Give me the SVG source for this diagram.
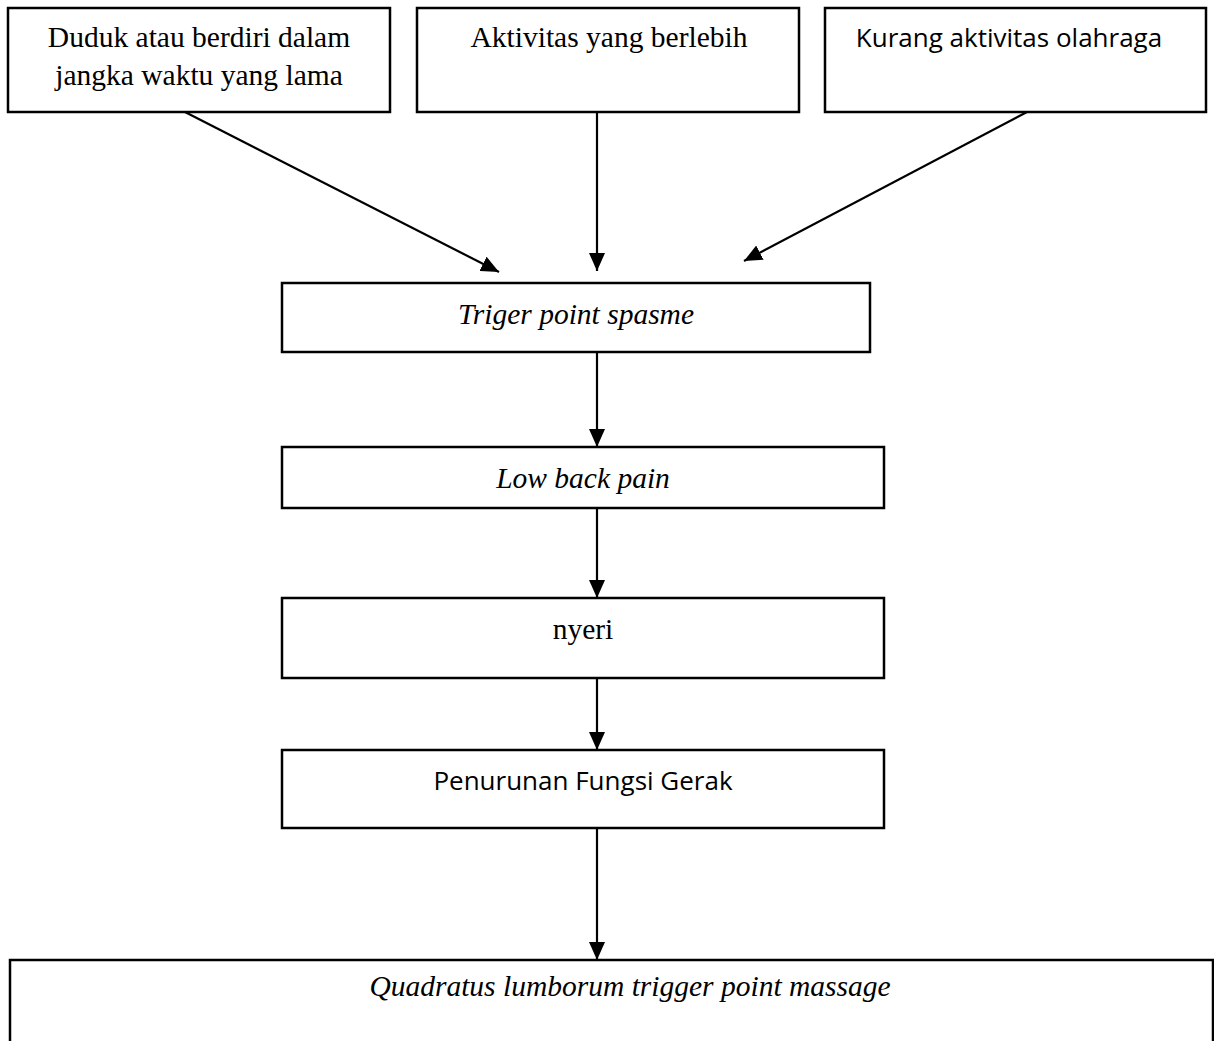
<svg xmlns="http://www.w3.org/2000/svg" width="1214" height="1041" viewBox="0 0 1214 1041">
<style>
.box{fill:#fff;stroke:#000;stroke-width:2.5}
.ser{font-family:"Liberation Serif","Times New Roman",serif;font-size:29.5px;fill:#000;text-anchor:middle}
.it{font-style:italic}
.san{font-family:"Open Sans","Noto Sans",sans-serif;font-size:26px;fill:#000;text-anchor:middle}
.con line{stroke:#000;stroke-width:2.2}
</style>
<defs>
<marker id="ah2" viewBox="0 0 18 16" refX="18" refY="8" markerWidth="18" markerHeight="16" markerUnits="userSpaceOnUse" orient="auto"><path d="M0,0 L18,8 L0,16 z" fill="#000"/></marker>
</defs>
<g id="n1"><rect class="box" x="8" y="8" width="382" height="104"/><text class="ser" x="199" y="47">Duduk atau berdiri dalam</text><text class="ser" x="199" y="85">jangka waktu yang lama</text></g>
<g id="n2"><rect class="box" x="417" y="8" width="382" height="104"/><text class="ser" x="609" y="47">Aktivitas yang berlebih</text></g>
<g id="n3"><rect class="box" x="825" y="8" width="381" height="104"/><text class="san" x="1009" y="47">Kurang aktivitas olahraga</text></g>
<g id="n4"><rect class="box" x="282" y="283" width="588" height="69"/><text class="ser it" x="576" y="324">Triger point spasme</text></g>
<g id="n5"><rect class="box" x="282" y="447" width="602" height="61"/><text class="ser it" x="583" y="488">Low back pain</text></g>
<g id="n6"><rect class="box" x="282" y="598" width="602" height="80"/><text class="ser" x="583" y="639">nyeri</text></g>
<g id="n7"><rect class="box" x="282" y="750" width="602" height="78"/><text class="san" x="583" y="790">Penurunan Fungsi Gerak</text></g>
<g id="n8"><rect class="box" x="10" y="960" width="1203" height="100"/><text class="ser it" x="630" y="996">Quadratus lumborum trigger point massage</text></g>
<g class="con" id="connectors">
<line x1="185" y1="112" x2="499" y2="272" marker-end="url(#ah2)"/>
<line x1="597" y1="112" x2="597" y2="271" marker-end="url(#ah2)"/>
<line x1="1027" y1="112" x2="744" y2="261" marker-end="url(#ah2)"/>
<line x1="597" y1="352" x2="597" y2="447" marker-end="url(#ah2)"/>
<line x1="597" y1="508" x2="597" y2="598" marker-end="url(#ah2)"/>
<line x1="597" y1="678" x2="597" y2="750" marker-end="url(#ah2)"/>
<line x1="597" y1="828" x2="597" y2="960" marker-end="url(#ah2)"/>
</g>
</svg>
